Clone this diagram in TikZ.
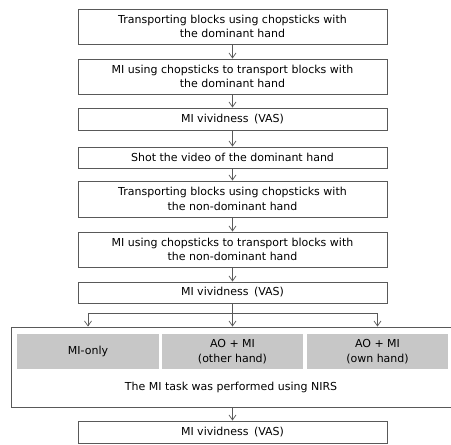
\documentclass[tikz,border=0pt]{standalone}
\usepackage{fontspec}
\setmainfont{DejaVu Sans}
\usetikzlibrary{arrows.meta, positioning}

\tikzset{
  stepbox/.style={draw=black!65, line width=0.9pt, minimum width=309pt, align=center, inner sep=0pt, font=\fontsize{11}{14.5}\selectfont},
  condbox/.style={fill=black!22, minimum height=35pt, align=center, inner sep=0pt, font=\fontsize{11}{14.5}\selectfont},
  arr/.style={-{Straight Barb[length=5pt, width=7pt]}, draw=black!65, line width=0.7pt},
}

\begin{document}
\begin{tikzpicture}[x=1pt, y=-1pt]
\useasboundingbox (0,0) rectangle (451,445);
% centre of the step column
\def\cx{232.5}

% Steps
\node[stepbox, minimum height=35pt] (s1) at (\cx,26.5) {Transporting blocks using chopsticks with\\the dominant hand};
\node[stepbox, minimum height=35pt] (s2) at (\cx,76.5) {MI using chopsticks to transport blocks with\\the dominant hand};
\node[stepbox, minimum height=22pt] (s3) at (\cx,119) {MI vividness\enspace(VAS)};
\node[stepbox, minimum height=21pt] (s4) at (\cx,157.5) {Shot the video of the dominant hand};
\node[stepbox, minimum height=36pt] (s5) at (\cx,199) {Transporting blocks using chopsticks with\\the non-dominant hand};
\node[stepbox, minimum height=35pt] (s6) at (\cx,249.5) {MI using chopsticks to transport blocks with\\the non-dominant hand};
\node[stepbox, minimum height=21pt] (s7) at (\cx,292.5) {MI vividness\enspace(VAS)};

% NIRS task with its three conditions
\node[draw=black!65, line width=0.9pt, minimum width=442pt, minimum height=80pt, inner sep=0pt] (big) at (232,367) {};
\node[condbox, minimum width=142pt] (g1) at (88,351.5) {MI-only};
\node[condbox, minimum width=141pt] (g2) at (232.5,351.5) {AO + MI\\(other hand)};
\node[condbox, minimum width=141pt] (g3) at (377.5,351.5) {AO + MI\\(own hand)};
\node[font=\fontsize{11}{14.5}\selectfont] (nirs) at (231,387) {The MI task was performed using NIRS};

\node[stepbox, minimum height=22pt] (s8) at (\cx,432) {MI vividness\enspace(VAS)};

% Arrows
\foreach \a/\b in {s1/s2, s2/s3, s3/s4, s4/s5, s5/s6, s6/s7}
  \draw[arr] (\a) -- (\b);

\draw[draw=black!65, line width=0.7pt] (s7.south) -- ++(0,10) coordinate (split);
\draw[arr] (split) -| (g1.north |- big.north);
\draw[arr] (split) -| (g3.north |- big.north);
\draw[arr] (s7.south) -- (s7.south |- big.north);

\draw[arr] (big.south -| s8.north) -- (s8.north);
\end{tikzpicture}
\end{document}
